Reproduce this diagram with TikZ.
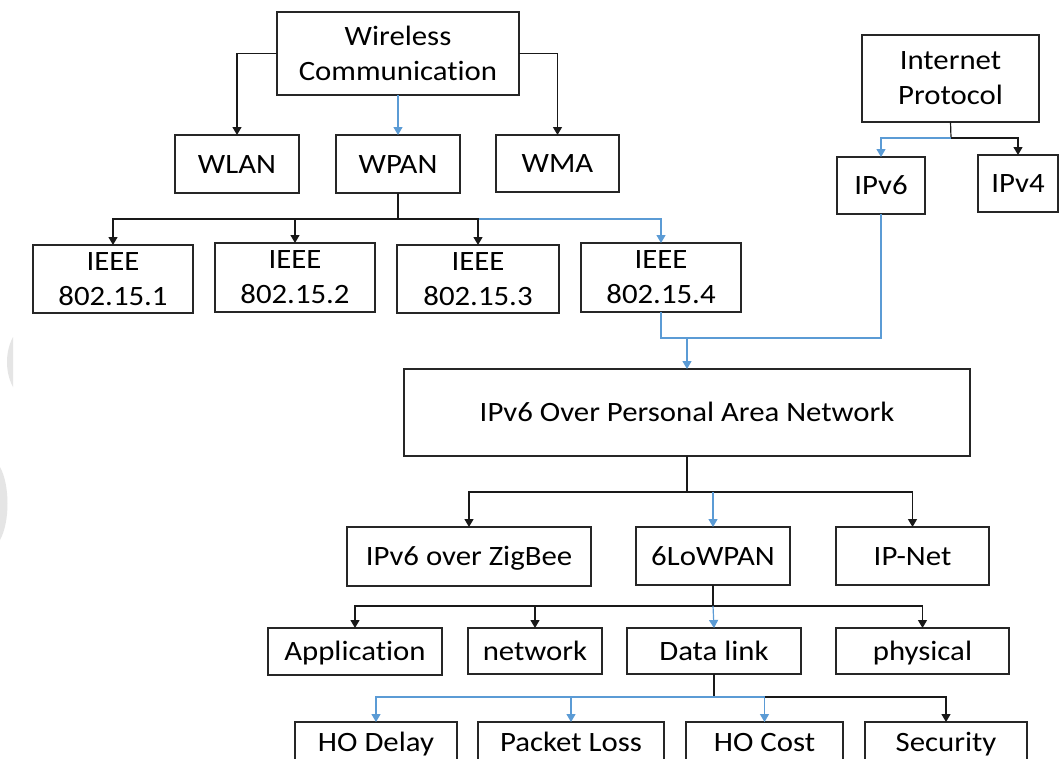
\documentclass[tikz,border=0pt]{standalone}
\usepackage{fontspec}
\setmainfont{Carlito}[FakeStretch=1.1, Ligatures=NoCommon]
\usetikzlibrary{arrows.meta}
\definecolor{lnblue}{HTML}{5B9BD5}
\definecolor{ghost}{gray}{0.9}
\tikzset{
  box/.style={draw=black!85, line width=1.3pt, inner sep=0pt, outer sep=0pt, align=center,
    font=\fontsize{28}{35}\selectfont},
  one/.style={text height=18pt, text depth=0pt},
  ln/.style={draw=black!90, line width=1.2pt},
  arr/.style={ln, -{Triangle[width=9pt,length=8pt]}},
  bln/.style={draw=lnblue, line width=1.2pt},
  barr/.style={bln, -{Triangle[width=9pt,length=8pt]}},
}
\begin{document}
\begin{tikzpicture}[x=1pt,y=-1pt]
\useasboundingbox (0,0) rectangle (1059,758);
\clip (0,0) rectangle (1059,758);
\fill[white] (0,0) rectangle (1059,758);
% faint marks at the left edge
\fill[ghost] (13,337) .. controls (5,352) and (5,372) .. (13,387) -- cycle;
\fill[ghost] (0,467) .. controls (10,485) and (10,522) .. (0,540) -- cycle;

% nodes
\node[box, minimum width=242pt, minimum height=83pt] (wc) at (398,53.5) {Wireless\\Communication};
\node[box, one, minimum width=124pt, minimum height=58pt] (wlan) at (237,164) {WLAN};
\node[box, one, minimum width=124pt, minimum height=58pt] (wpan) at (398,164) {WPAN};
\node[box, one, minimum width=123pt, minimum height=57pt] (wma) at (557.5,163.5) {WMA};

\node[box, minimum width=160pt, minimum height=68pt] (i1) at (113,279) {IEEE\\802.15.1};
\node[box, minimum width=160pt, minimum height=69pt] (i2) at (295,277.5) {IEEE\\802.15.2};
\node[box, minimum width=162pt, minimum height=68pt] (i3) at (478,279) {IEEE\\802.15.3};
\node[box, minimum width=160pt, minimum height=69pt] (i4) at (661,277.5) {IEEE\\802.15.4};

\node[box, minimum width=177pt, minimum height=87pt] (ip) at (950.5,78.5) {Internet\\Protocol};
\node[box, one, minimum width=88pt, minimum height=57pt] (ipv6) at (881,185.5) {IPv6};
\node[box, one, minimum width=80pt, minimum height=57pt] (ipv4) at (1018,183.5) {IPv4};

\node[box, one, minimum width=566pt, minimum height=87pt] (pan) at (687,412.5) {IPv6 Over Personal Area Network};

\node[box, one, minimum width=244pt, minimum height=59pt] (zig) at (469,556.5) {IPv6 over ZigBee};
\node[box, one, minimum width=154pt, minimum height=58pt] (low) at (713,556) {6LoWPAN};
\node[box, one, minimum width=153pt, minimum height=58pt] (ipnet) at (912.5,556) {IP-Net};

\node[box, one, minimum width=174pt, minimum height=47pt] (app) at (355,651.5) {Application};
\node[box, one, minimum width=134pt, minimum height=46pt] (net) at (535,651) {network};
\node[box, one, minimum width=174pt, minimum height=46pt] (dl) at (714,651) {Data link};
\node[box, one, minimum width=173pt, minimum height=46pt] (phy) at (922.5,651) {physical};

\node[box, one, minimum width=162pt, minimum height=40pt] (hod) at (376,742) {HO Delay};
\node[box, one, minimum width=186pt, minimum height=40pt] (pl) at (571,742) {Packet Loss};
\node[box, one, minimum width=157pt, minimum height=40pt] (hoc) at (764.5,742) {HO Cost};
\node[box, one, minimum width=162pt, minimum height=40pt] (sec) at (946,742) {Security};

% junction points
\coordinate (wpanbus) at (398,219);
\coordinate (ipbus) at (951,138);
\coordinate (panin) at (687,338);
\coordinate (panbus) at (687,492);
\coordinate (lowbus) at (713,606);
\coordinate (dlbus) at (714,697);

% connectors
\draw[arr] (wc.west |- wc.center) -| (wlan.north);
\draw[arr] (wc.east |- wc.center) -| (wma.north);
\draw[barr] (wc.south) -- (wpan.north);

\draw[barr] (wpanbus) -| (i4.north);
\draw[ln] (wpan.south) -- (wpanbus);
\draw[arr] (wpanbus) -| (i1.north);
\draw[arr] (wpanbus) -| (i2.north);
\draw[arr] (wpanbus) -| (i3.north);

\draw[ln] (ip.south) -- (ipbus);
\draw[barr] (ipbus) -| (ipv6.north);
\draw[arr] (ipbus) -| (ipv4.north);

\draw[bln] (i4.south) |- (panin);
\draw[bln] (ipv6.south) |- (panin);
\draw[barr] (panin) -- (pan.north);

\draw[ln] (pan.south) -- (panbus);
\draw[arr] (panbus) -| (zig.north);
\draw[arr] (panbus) -| (ipnet.north);
\draw[barr] (panbus -| low.north) -- (low.north);

\draw[ln] (low.south) -- (lowbus);
\draw[arr] (lowbus) -| (app.north);
\draw[arr] (lowbus) -| (net.north);
\draw[arr] (lowbus) -| (phy.north);
\draw[barr] (lowbus) -- (dl.north);

\draw[ln] (dl.south) -- (dlbus);
\draw[arr] (dlbus) -| (sec.north);
\draw[barr] (dlbus) -| (hod.north);
\draw[barr] (dlbus) -| (pl.north);
\draw[barr] (dlbus) -| (hoc.north);
\end{tikzpicture}
\end{document}
